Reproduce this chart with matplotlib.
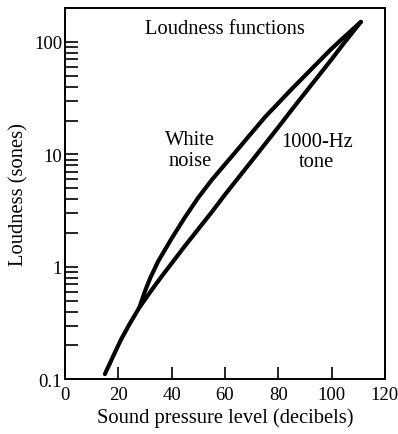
import matplotlib

matplotlib.use("Agg")
import matplotlib.pyplot as plt  # noqa: E402
from matplotlib.ticker import FixedLocator, LogLocator, NullFormatter  # noqa: E402

# loudness (sones) against sound pressure level (dB)
tone_db = [15, 18, 21, 24, 28, 32, 36, 40, 45, 50, 55, 60, 65, 70, 75, 80,
           85, 90, 95, 100, 105, 111]
tone_sones = [0.111, 0.158, 0.224, 0.302, 0.437, 0.596, 0.804, 1.07, 1.53,
              2.16, 3.05, 4.37, 6.17, 8.71, 12.3, 17.4, 24.8, 35.1, 49.5,
              70.0, 100.0, 151.0]

noise_db = [28, 30, 32, 35, 40, 45, 50, 55, 60, 65, 70, 75, 80, 85, 90, 95,
            100, 105, 111]
noise_sones = [0.437, 0.603, 0.794, 1.12, 1.78, 2.75, 4.12, 5.89, 8.13, 11.2,
               15.5, 21.4, 28.5, 38.0, 50.1, 66.1, 87.1, 112.0, 151.0]

x_ticks = [0, 20, 40, 60, 80, 100, 120]
y_ticks = [0.1, 1, 10, 100]
y_tick_labels = ["0.1", "1", "10", "100"]

plt.rcParams["font.family"] = ["Liberation Serif", "DejaVu Serif"]

fig = plt.figure(figsize=(3.98, 4.35), dpi=100)
ax = fig.add_axes([0.163, 0.126, 0.804, 0.853])

line_kw = dict(color="black", lw=3.0, solid_capstyle="round", solid_joinstyle="round")
ax.plot(tone_db, tone_sones, **line_kw)
ax.plot(noise_db, noise_sones, **line_kw)

ax.set_yscale("log")
ax.set_xlim(0, 120)
ax.set_ylim(0.1, 200)

ax.xaxis.set_major_locator(FixedLocator(x_ticks))
ax.set_yticks(y_ticks)
ax.set_yticklabels(y_tick_labels)
ax.yaxis.set_minor_locator(LogLocator(base=10, subs=range(2, 10)))
ax.yaxis.set_minor_formatter(NullFormatter())

ax.tick_params(axis="both", which="both", direction="in", length=9,
               width=1.2, labelsize=13.5, color="black")
ax.tick_params(axis="y", which="both", right=False, pad=2)
ax.tick_params(axis="x", which="both", top=False, pad=5)
for s in ax.spines.values():
    s.set_linewidth(1.4)

ax.set_xlabel("Sound pressure level (decibels)", fontsize=14.8, labelpad=3)
ax.set_ylabel("Loudness (sones)", fontsize=14.8, labelpad=4)

ax.text(0.5, 0.946, "Loudness functions", transform=ax.transAxes,
        ha="center", va="center", fontsize=14.8)
ax.text(47, 10.9, "White\nnoise", ha="center", va="center", fontsize=14.8,
        linespacing=1.1)
ax.text(94.5, 10.6, "1000-Hz\ntone", ha="center", va="center", fontsize=14.8,
        linespacing=1.1)

fig.savefig("out.png", dpi=100)
